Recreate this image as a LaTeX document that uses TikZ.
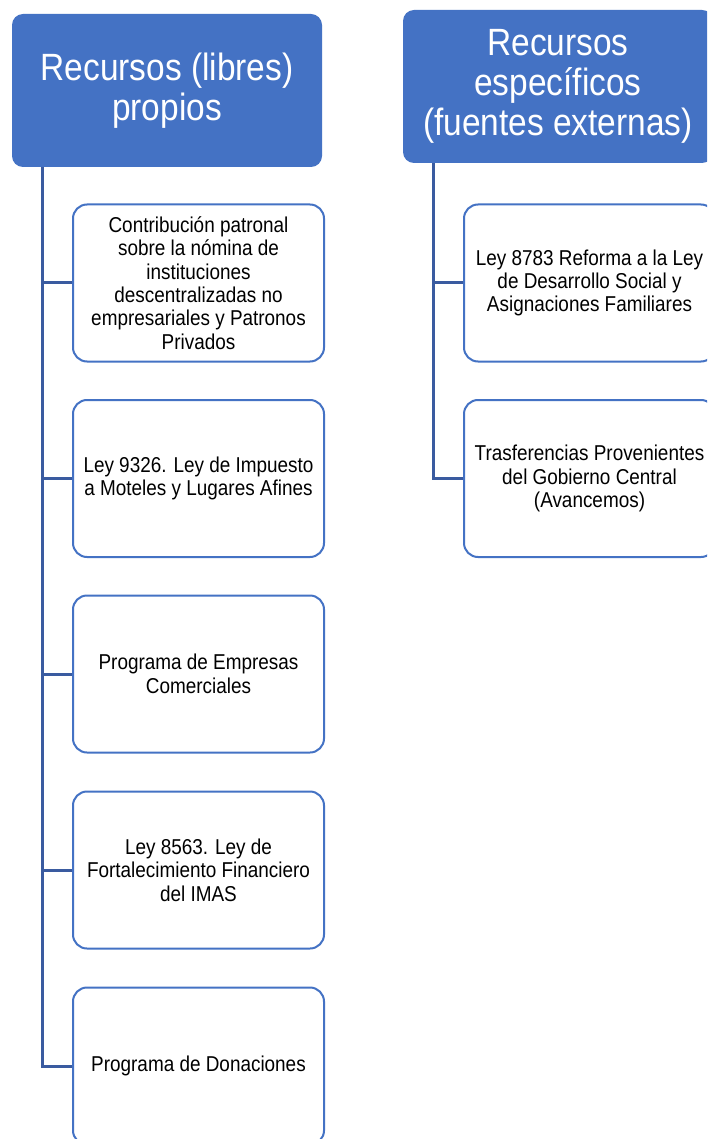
\documentclass[tikz,border=0pt]{standalone}
\usepackage{fontspec}
\setmainfont{Liberation Sans}[FakeStretch=0.88]
\definecolor{hdrblue}{HTML}{4472C4}
\definecolor{lineblue}{HTML}{3A5BA0}
\begin{document}
\begin{tikzpicture}[x=1pt,y=-1pt,
  header/.style={draw=none, fill=hdrblue, rounded corners=11pt, minimum width=310pt, minimum height=153pt, inner sep=0pt, text=white, align=center, font=\fontsize{38}{40}\selectfont},
  child/.style={draw=hdrblue, line width=2pt, fill=white, rounded corners=14pt, minimum width=251pt, minimum height=157pt, inner sep=0pt, text=black, align=center, font=\fontsize{21.5}{23.4}\selectfont},
  conn/.style={draw=lineblue, line width=3pt}]
\useasboundingbox (0,0) rectangle (707,1139);
\clip (0,0) rectangle (707,1139);
\fill[white] (0,0) rectangle (707,1139);
% headers
\node[header] (hl) at (167,90.5) {Recursos (libres)\\propios};
\node[header] (hr) at (558,86.5) {Recursos\\específicos\\(fuentes externas)};
% trunk coordinates
\coordinate (tl) at (42,0);
\coordinate (tr) at (433,0);
% left children
\node[child] (l1) at (198.5,283) {Contribución patronal\\sobre la nómina de\\instituciones\\descentralizadas no\\empresariales y Patronos\\Privados};
\node[child] (l2) at (198.5,478.5) {Ley 9326. Ley de Impuesto\\a Moteles y Lugares Afines};
\node[child] (l3) at (198.5,674) {Programa de Empresas\\Comerciales};
\node[child] (l4) at (198.5,870) {Ley 8563. Ley de\\Fortalecimiento Financiero\\del IMAS};
\node[child] (l5) at (198.5,1066) {Programa de Donaciones};
% right children
\node[child] (r1) at (589.5,283) {Ley 8783 Reforma a la Ley\\de Desarrollo Social y\\Asignaciones Familiares};
\node[child] (r2) at (589.5,478.5) {Trasferencias Provenientes\\del Gobierno Central\\(Avancemos)};
% connectors
\foreach \c in {l1,l2,l3,l4,l5}{
  \draw[conn] (hl.south -| tl) |- (\c.west);
}
\foreach \c in {r1,r2}{
  \draw[conn] (hr.south -| tr) |- (\c.west);
}
\end{tikzpicture}
\end{document}
